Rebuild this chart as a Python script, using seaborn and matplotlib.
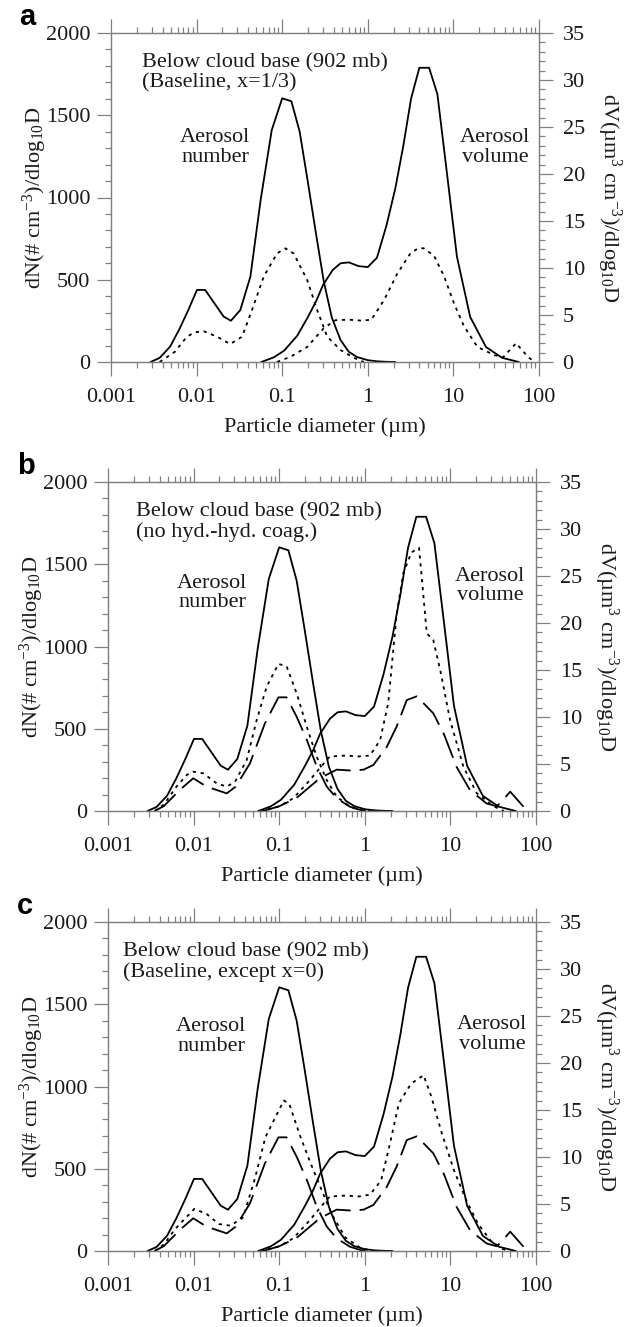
import numpy as np
import matplotlib
matplotlib.use("Agg")
import matplotlib.pyplot as plt
from matplotlib.ticker import FixedLocator, FixedFormatter, MultipleLocator, LogLocator, NullFormatter
import seaborn as sns

# ---------------- data: size distributions (diameter in um) ----------------
# aerosol number, dN/dlog10D (# cm^-3), solid reference curve (all panels)
d_num_base = [0.0029, 0.0037, 0.0049, 0.0063, 0.008, 0.0101, 0.0126, 0.016, 0.0207, 0.0252,
              0.0324, 0.0425, 0.056, 0.0755, 0.1, 0.128, 0.16, 0.2, 0.25, 0.306, 0.38, 0.48,
              0.6, 0.75, 1.0, 1.3, 1.7, 2.1]
n_base = [0, 25, 93, 200, 316, 438, 438, 360, 276, 251,
          316, 519, 985, 1410, 1603, 1585, 1400, 1090, 770, 490, 270, 134,
          62, 30, 11, 4, 1, 0]

# aerosol volume, dV/dlog10D (um^3 cm^-3), solid reference curve (all panels)
d_vol_base = [0.057, 0.08, 0.105, 0.15, 0.2, 0.25, 0.3, 0.39, 0.48, 0.6, 0.78, 1.0, 1.28,
              1.65, 2.1, 2.6, 3.2, 4.0, 5.2, 6.5, 8.3, 11, 15.7, 24, 37, 58]
v_base = [0, 0.5, 1.2, 2.8, 4.8, 6.5, 8.2, 9.8, 10.5, 10.6, 10.2, 10.1, 11.1,
          14.5, 18.5, 23, 28, 31.3, 31.3, 28.5, 20.5, 11.2, 4.8, 1.6, 0.45, 0]

# panel a: baseline x=1/3 (dotted)
d_num_a = [0.0037, 0.0056, 0.0077, 0.0095, 0.012, 0.0173, 0.0247, 0.034, 0.0444, 0.0608,
           0.087, 0.109, 0.136, 0.196, 0.256, 0.336, 0.48, 0.69, 0.9]
n_a = [0, 63, 154, 180, 188, 154, 109, 154, 316, 519,
       660, 691, 660, 498, 316, 154, 73, 25, 0]
d_vol_a = [0.087, 0.125, 0.196, 0.306, 0.42, 0.6, 0.85, 1.1, 1.55, 2.21, 3.17, 3.9, 4.5,
           5.94, 7.8, 10.2, 13.3, 19.1, 30, 38, 54, 75, 90]
v_a = [0, 0.56, 1.6, 3.6, 4.45, 4.5, 4.4, 4.5, 6.6, 9.4, 11.6, 12.1, 12.1,
       11.3, 9.1, 6.2, 3.8, 1.6, 0.74, 0.5, 2.0, 0.5, 0]

# panel b: no hydrometeor-hydrometeor coagulation (dotted)
d_num_b = [0.0035, 0.0045, 0.0063, 0.0083, 0.0099, 0.013, 0.0186, 0.0244, 0.0305, 0.0417,
           0.0546, 0.0714, 0.098, 0.122, 0.16, 0.21, 0.274, 0.359, 0.47, 0.67, 0.9, 1.2]
n_b = [0, 40, 148, 219, 239, 229, 168, 148, 178, 310,
       553, 756, 894, 880, 715, 512, 330, 188, 87, 26, 5, 0]
d_vol_b = [0.06, 0.1, 0.146, 0.229, 0.3, 0.39, 0.6, 0.85, 1.15, 1.51, 1.88, 2.36, 2.82,
           3.5, 4.3, 5.3, 6.3, 7.6, 9.9, 14.2, 20.3, 32, 42]
v_b = [0, 0.5, 1.35, 3.3, 4.6, 5.8, 5.9, 5.8, 5.9, 7.55, 11.5, 21, 25.3,
       27.5, 28, 18.9, 18.2, 15, 9.7, 4.7, 1.9, 0.5, 0]

# panel c: baseline except x=0 (dotted)
d_num_c = [0.0035, 0.0045, 0.006, 0.0082, 0.0102, 0.0142, 0.0197, 0.027, 0.038, 0.0525,
           0.069, 0.113, 0.131, 0.172, 0.226, 0.315, 0.41, 0.59, 0.87, 1.2]
n_c = [0, 40, 130, 205, 256, 225, 164, 154, 205, 448,
       692, 915, 895, 712, 550, 367, 225, 83, 22, 0]
d_vol_c = [0.06, 0.1, 0.146, 0.229, 0.3, 0.39, 0.6, 0.85, 1.15, 1.55, 1.92, 2.5, 3.47,
           4.86, 6.0, 7.95, 11, 15.3, 21, 29.5, 41, 50]
v_c = [0, 0.5, 1.35, 3.3, 4.6, 5.8, 5.9, 5.8, 6.0, 7.5, 11, 15.7, 17.8,
       18.7, 16.4, 12.5, 8.6, 5.4, 2.9, 1.1, 0.2, 0]

# long-dashed comparison run shown in panels b and c
d_num_dash = [0.0035, 0.0045, 0.0069, 0.0099, 0.0142, 0.0244, 0.031, 0.0456, 0.068, 0.098,
              0.122, 0.16, 0.21, 0.274, 0.36, 0.47, 0.67, 0.9, 1.2]
n_dash = [0, 30, 128, 199, 148, 107, 148, 290, 532, 691,
          691, 573, 433, 271, 148, 77, 26, 5, 0]
d_vol_dash = [0.065, 0.1, 0.16, 0.3, 0.47, 0.7, 0.97, 1.26, 1.8, 2.36, 3.09, 4.05, 6.3,
              8.3, 11.8, 17, 26.5, 35, 50, 74, 80]
v_dash = [0, 0.5, 1.4, 3.5, 4.4, 4.3, 4.4, 4.9, 6.8, 9.0, 11.8, 12.2, 10.4,
          8.3, 4.7, 2.2, 0.8, 0.5, 2.05, 0.3, 0]

x_ticks = [0.001, 0.01, 0.1, 1, 10, 100]
x_tick_labels = ["0.001", "0.01", "0.1", "1", "10", "100"]

panel_letters = ["a", "b", "c"]
panel_titles = ["Below cloud base (902 mb)\n(Baseline, x=1/3)",
                "Below cloud base (902 mb)\n(no hyd.-hyd. coag.)",
                "Below cloud base (902 mb)\n(Baseline, except x=0)"]

# ---------------- style ----------------
sns.set_theme(style="ticks")
plt.rcParams["font.family"] = ["Liberation Serif", "DejaVu Serif"]
plt.rcParams["mathtext.fontset"] = "custom"
plt.rcParams["mathtext.rm"] = "Liberation Serif"
plt.rcParams["mathtext.it"] = "Liberation Serif:italic"
plt.rcParams["mathtext.default"] = "regular"

W, H = 635, 1327
fig = plt.figure(figsize=(W / 100, H / 100), dpi=100)

GRAY = "#808080"
TXT = "#1a1a1a"
FS = 16
LW = 1.3
DOT = (0, (1.8, 2.6))
DASH = (0, (15, 5))

# axes boxes in pixels: left, top, right, bottom
boxes = [(111, 33, 539, 362), (108, 482, 536, 811), (108, 922, 536, 1251)]
letter_pos = [(19, 25), (17, 474), (17, 914)]
title_x = [0.072, 0.065, 0.035]
num_lab = [(0.243, 0.653), (0.243, 0.663), (0.241, 0.653)]
vol_lab = [(0.897, 0.653), (0.893, 0.684), (0.897, 0.657)]

panels = [
    dict(num=[(d_num_a, n_a, DOT)], vol=[(d_vol_a, v_a, DOT)]),
    dict(num=[(d_num_b, n_b, DOT), (d_num_dash, n_dash, DASH)],
         vol=[(d_vol_b, v_b, DOT), (d_vol_dash, v_dash, DASH)]),
    dict(num=[(d_num_c, n_c, DOT), (d_num_dash, n_dash, DASH)],
         vol=[(d_vol_c, v_c, DOT), (d_vol_dash, v_dash, DASH)]),
]


def style_axis(a):
    for s in a.spines.values():
        s.set_color(GRAY)
        s.set_linewidth(0.9)
        s.set_visible(True)
    a.tick_params(which="both", colors=GRAY, labelcolor=TXT, width=0.9, direction="out")
    a.tick_params(which="major", length=10)
    a.tick_params(which="minor", length=4.5)


for i, (l, t, r, b) in enumerate(boxes):
    ax = fig.add_axes([l / W, 1 - b / H, (r - l) / W, (b - t) / H])
    ax2 = ax.twinx()

    p = panels[i]
    sns.lineplot(x=d_num_base, y=n_base, ax=ax, color="black", lw=LW,
                 estimator=None, sort=False, legend=False)
    for d, v, ls in p["num"]:
        sns.lineplot(x=d, y=v, ax=ax, color="black", lw=LW, linestyle=ls,
                     estimator=None, sort=False, legend=False)
    sns.lineplot(x=d_vol_base, y=v_base, ax=ax2, color="black", lw=LW,
                 estimator=None, sort=False, legend=False)
    for d, v, ls in p["vol"]:
        sns.lineplot(x=d, y=v, ax=ax2, color="black", lw=LW, linestyle=ls,
                     estimator=None, sort=False, legend=False)

    ax.set_xscale("log")
    ax.set_xlim(1e-3, 100)
    ax.set_ylim(0, 2000)
    ax2.set_ylim(0, 35)

    ax.xaxis.set_major_locator(FixedLocator(x_ticks))
    ax.xaxis.set_major_formatter(FixedFormatter(x_tick_labels))
    ax.xaxis.set_minor_locator(LogLocator(base=10, subs=np.arange(2, 10)))
    ax.xaxis.set_minor_formatter(NullFormatter())
    ax.yaxis.set_major_locator(MultipleLocator(500))
    ax.yaxis.set_minor_locator(MultipleLocator(100))
    ax2.yaxis.set_major_locator(MultipleLocator(5))
    ax2.yaxis.set_minor_locator(MultipleLocator(1))

    style_axis(ax)
    style_axis(ax2)
    ax.tick_params(axis="x", which="both", top=True, bottom=True)
    ax.tick_params(axis="x", which="major", pad=8.5, labelsize=FS)
    ax.tick_params(axis="y", which="major", pad=5, labelsize=FS)
    ax2.tick_params(axis="y", which="major", pad=7, labelsize=FS)

    ax.set_xlabel("Particle diameter (µm)", fontsize=FS, color=TXT)
    ax.xaxis.set_label_coords(0.5, -65 / 329)
    ax.xaxis.label.set_verticalalignment("center")

    ax.set_ylabel(r"dN(# cm$^{-3}$)/dlog$_{10}$D", fontsize=FS, color=TXT)
    ax.yaxis.set_label_coords(-0.178, 0.5)
    ax.yaxis.label.set_verticalalignment("center")

    ax2.set_ylabel(r"dV(µm$^{3}$ cm$^{-3}$)/dlog$_{10}$D", fontsize=FS, color=TXT,
                   rotation=270)
    ax2.yaxis.set_label_coords(1.164, 0.5)
    ax2.yaxis.label.set_verticalalignment("center")

    ax.text(title_x[i], 0.94, panel_titles[i], transform=ax.transAxes, fontsize=FS,
            color=TXT, ha="left", va="top", linespacing=1.1)
    ax.text(num_lab[i][0], num_lab[i][1], "Aerosol\nnumber", transform=ax.transAxes,
            fontsize=FS, color=TXT, ha="center", va="center", linespacing=1.05)
    ax.text(vol_lab[i][0], vol_lab[i][1], "Aerosol\nvolume", transform=ax.transAxes,
            fontsize=FS, color=TXT, ha="center", va="center", linespacing=1.05)

    fig.text(letter_pos[i][0] / W, 1 - letter_pos[i][1] / H, panel_letters[i],
             fontsize=21, fontweight="bold", family=["Liberation Sans", "DejaVu Sans"],
             color="black", ha="left", va="baseline")

fig.savefig("out.png", dpi=100)
